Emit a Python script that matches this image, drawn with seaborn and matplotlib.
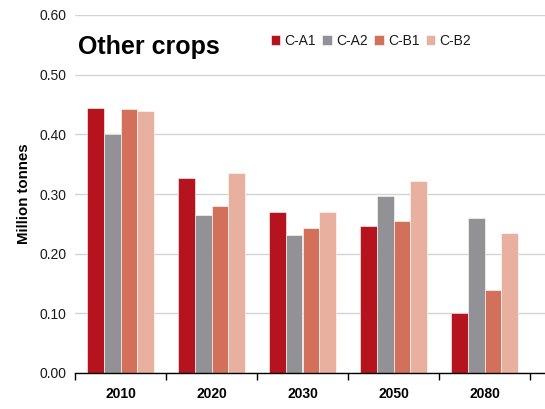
import matplotlib
matplotlib.use("Agg")
import matplotlib.pyplot as plt
import seaborn as sns
import pandas as pd
from matplotlib.ticker import FixedLocator

years = ["2010", "2020", "2030", "2050", "2080"]
scenarios = ["C-A1", "C-A2", "C-B1", "C-B2"]
c_a1 = [0.444, 0.327, 0.269, 0.246, 0.100]
c_a2 = [0.400, 0.264, 0.232, 0.296, 0.259]
c_b1 = [0.442, 0.280, 0.243, 0.255, 0.139]
c_b2 = [0.439, 0.335, 0.269, 0.321, 0.235]
colors = ["#B5141F", "#929196", "#D2705C", "#E8B09E"]

rows = []
for name, vals in zip(scenarios, [c_a1, c_a2, c_b1, c_b2]):
    for y, v in zip(years, vals):
        rows.append({"Year": y, "Scenario": name, "Value": v})
df = pd.DataFrame(rows)

sns.set_theme(style="white")
plt.rcParams["font.family"] = ["Liberation Sans", "DejaVu Sans"]
plt.rcParams["text.color"] = "black"

fig = plt.figure(figsize=(5.45, 4.09), dpi=100)
ax = fig.add_axes([75 / 545, 1 - 373 / 409, 1 - 75 / 545, (373 - 15) / 409])

sns.barplot(data=df, x="Year", y="Value", hue="Scenario", order=years,
            hue_order=scenarios, palette=colors, width=0.74, ax=ax,
            edgecolor="#ffffff", linewidth=0.4, saturation=1, legend=True,
            errorbar=None)

ax.set_ylim(0, 0.6)
ax.set_xlim(-0.5, 4.5 + 15 / 91)
ticks = [0.0, 0.1, 0.2, 0.3, 0.4, 0.5, 0.6]
ax.set_yticks(ticks)
ax.set_yticklabels([f"{v:.2f}" for v in ticks], fontsize=10)
ax.yaxis.grid(True, color="#D4D4D4", linewidth=1)
ax.set_axisbelow(True)
ax.tick_params(axis="y", length=0, pad=6, labelcolor="#1a1a1a")

ax.set_xticks(range(len(years)))
ax.set_xticklabels(years, fontsize=10, fontweight="bold")
ax.tick_params(axis="x", which="major", length=0, pad=10, labelcolor="black")
ax.xaxis.set_minor_locator(FixedLocator([-0.5, 0.5, 1.5, 2.5, 3.5, 4.5]))
ax.tick_params(axis="x", which="minor", length=5, width=1, color="black",
               direction="out", bottom=True)

for s in ["left", "right", "top"]:
    ax.spines[s].set_visible(False)
ax.spines["bottom"].set_color("black")
ax.spines["bottom"].set_linewidth(1)

ax.set_xlabel("")
ax.set_ylabel("Million tonnes", fontsize=10.8, fontweight="bold", labelpad=6,
              color="black")

ax.text(0.006, (373 - 47) / 358, "Other crops", transform=ax.transAxes,
        fontsize=18, fontweight="bold", va="center", ha="left", color="black")

leg = ax.legend(loc="center", bbox_to_anchor=((371 - 75) / 470, (373 - 41) / 358),
                ncol=4, frameon=False, fontsize=10, handlelength=0.7,
                handleheight=0.7, handletextpad=0.3, columnspacing=0.45,
                borderaxespad=0)
for t in leg.get_texts():
    t.set_color("#1a1a1a")

fig.savefig("out.png", dpi=100)
